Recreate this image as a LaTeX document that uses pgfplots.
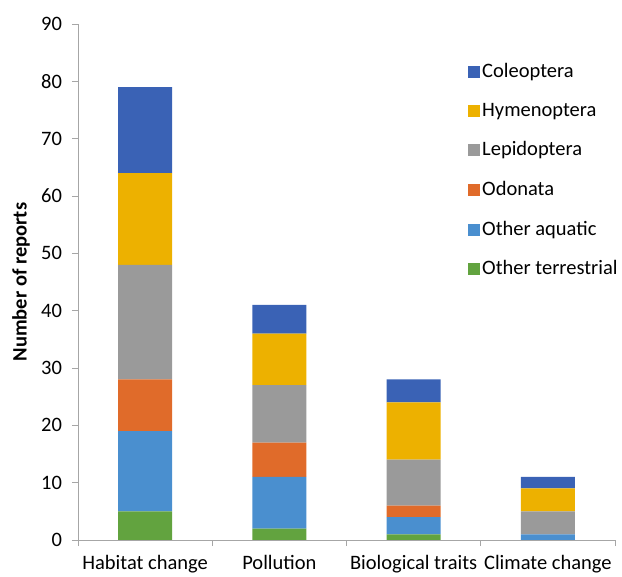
\documentclass[border=0pt]{standalone}
\usepackage{pgfplots}
\pgfplotsset{compat=1.18}
\usepackage{fontspec}
\setmainfont{Carlito}
\definecolor{cCol}{HTML}{3A62B5}
\definecolor{cHym}{HTML}{EDB100}
\definecolor{cLep}{HTML}{9A9A9A}
\definecolor{cOdo}{HTML}{E06B2A}
\definecolor{cAqu}{HTML}{4A8FCF}
\definecolor{cTer}{HTML}{62A33F}
\begin{document}
\fontsize{20.5bp}{24bp}\selectfont
\begin{tikzpicture}
\begin{axis}[
  at={(0,0)}, anchor=south west,
  scale only axis, width=537bp, height=516bp,
  ybar stacked, bar width=54bp,
  xmin=-0.5, xmax=3.5, ymin=0, ymax=90,
  ytick={0,10,...,90},
  axis x line*=bottom, axis y line*=left,
  axis line style={draw=gray!70, line width=0.8bp},
  tick style={draw=gray!70, line width=0.8bp},
  tick align=outside, major tick length=6bp,
  xtick={-0.5,0.5,1.5,2.5,3.5}, xticklabels={},
  extra x ticks={0,1,2,3},
  extra x tick labels={Habitat change,Pollution,Biological traits,Climate change},
  extra x tick style={major tick length=0pt, tick style={draw=none},
     xticklabel style={yshift=-8bp}},
  /pgf/number format/assume math mode=true,
  tick label style={font=\fontsize{20.5bp}{24bp}\selectfont},
  yticklabel style={xshift=-3bp},
  ylabel={\textbf{Number of reports}},
  every axis y label/.style={at={(axis description cs:0,0.5)}, xshift=-57bp, rotate=90, anchor=center, font=\fontsize{20.5bp}{24bp}\selectfont},
  legend style={draw=none, fill=none, at={(0.7207,0.932)}, anchor=north west,
    font=\fontsize{20.5bp}{24bp}\selectfont, row sep=18.4bp,
    /tikz/every even column/.append style={column sep=3bp}},
  legend cell align=left,
  reverse legend,
  legend image code/.code={\fill[#1] (0bp,-6bp) rectangle (12bp,6bp);},
]
\addplot[fill=cTer, draw=none] coordinates {(0,5) (1,2) (2,1) (3,0)};
\addplot[fill=cAqu, draw=none] coordinates {(0,14) (1,9) (2,3) (3,1)};
\addplot[fill=cOdo, draw=none] coordinates {(0,9) (1,6) (2,2) (3,0)};
\addplot[fill=cLep, draw=none] coordinates {(0,20) (1,10) (2,8) (3,4)};
\addplot[fill=cHym, draw=none] coordinates {(0,16) (1,9) (2,10) (3,4)};
\addplot[fill=cCol, draw=none] coordinates {(0,15) (1,5) (2,4) (3,2)};
\legend{Other terrestrial,Other aquatic,Odonata,Lepidoptera,Hymenoptera,Coleoptera}
\end{axis}
\pgfresetboundingbox
\path (-78bp,-37bp) rectangle (544bp,540bp);
\end{tikzpicture}
\end{document}
